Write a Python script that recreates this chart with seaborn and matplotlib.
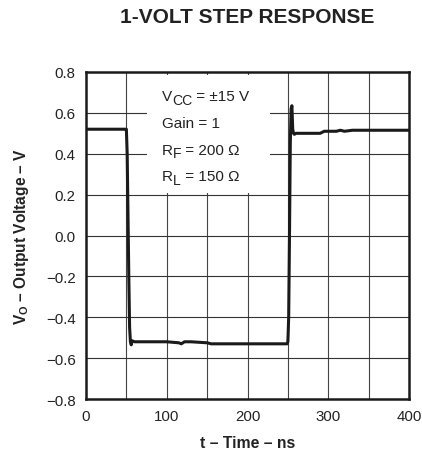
import numpy as np
import matplotlib
matplotlib.use("Agg")
import matplotlib.pyplot as plt
import seaborn as sns
import pandas as pd

# waveform (time in ns, output in V)
time_ns = [0, 20, 49, 50, 51, 52, 53, 54, 55, 56, 57, 60, 80, 100, 115, 118, 122,
           126, 130, 150, 155, 180, 200, 230, 249, 250, 251, 252, 253, 254, 255,
           256, 257, 258, 260, 280, 290, 295, 300, 310, 315, 320, 330, 360, 400]
vout = [0.52, 0.52, 0.52, 0.52, 0.40, 0.10, -0.20, -0.45, -0.52, -0.535, -0.515,
        -0.52, -0.52, -0.52, -0.525, -0.53, -0.52, -0.52, -0.52, -0.525, -0.53,
        -0.53, -0.53, -0.53, -0.53, -0.52, -0.40, 0.00, 0.45, 0.62, 0.635,
        0.52, 0.50, 0.495, 0.50, 0.50, 0.50, 0.51, 0.51, 0.51, 0.515, 0.51,
        0.515, 0.515, 0.515]

x_ticks = [0, 100, 200, 300, 400]
y_ticks = [-0.8, -0.6, -0.4, -0.2, 0.0, 0.2, 0.4, 0.6, 0.8]
# test conditions: (main text, subscript, rest)
conditions = [("V", "CC", " = ±15 V"),
              ("Gain = 1", "", ""),
              ("R", "F", " = 200 Ω"),
              ("R", "L", " = 150 Ω")]

sns.set_style("white")
plt.rcParams['font.family'] = ['Liberation Sans', 'DejaVu Sans']
plt.rcParams['mathtext.fontset'] = 'custom'
plt.rcParams['mathtext.rm'] = 'Liberation Sans'
plt.rcParams['mathtext.bf'] = 'Liberation Sans:bold'
plt.rcParams['axes.unicode_minus'] = True

df = pd.DataFrame({'t': time_ns, 'v': vout})

fig = plt.figure(figsize=(4.22, 4.60), dpi=100)
ax = fig.add_axes([86 / 422, 1 - 400 / 460, 323 / 422, 327 / 460])

# grid every 50 ns and 0.2 V
for gx in np.arange(50, 400, 50):
    ax.axvline(gx, color='#444444', lw=0.8, zorder=1)
for gy in np.arange(-0.6, 0.8, 0.2):
    ax.axhline(gy, color='#333333', lw=0.8, zorder=1)

# white box behind the test conditions
ax.fill_between([75, 228], 0.21, 0.785, color='white', zorder=2, lw=0)

sns.lineplot(data=df, x='t', y='v', ax=ax, color='#1a1a1a', lw=2.2,
             zorder=4, legend=False, sort=False)

fs = 11
for i, (main, sub, rest) in enumerate(conditions):
    t0 = ax.text(94, 0.682 - i * 0.131, main, fontsize=fs, ha='left',
                 va='center', color='#222222', zorder=5)
    if sub:
        t1 = ax.annotate(sub, xy=(1, 0), xycoords=t0, xytext=(0, -2.5),
                         textcoords='offset points', fontsize=fs * 0.92,
                         ha='left', va='bottom', color='#222222', zorder=5)
        ax.annotate(rest, xy=(1, 0), xycoords=t1, xytext=(0, 2.5),
                    textcoords='offset points', fontsize=fs,
                    ha='left', va='bottom', color='#222222', zorder=5)

ax.set_xlim(0, 400)
ax.set_ylim(-0.8, 0.8)
ax.set_xticks(x_ticks)
ax.set_yticks(y_ticks)
ax.set_yticklabels([f"{v:.1f}".replace('-', '\u2212') for v in y_ticks])
ax.tick_params(length=0, labelsize=10.8, colors='#222222', pad=7.5)
for sp in ax.spines.values():
    sp.set_visible(True)
    sp.set_linewidth(1.8)
    sp.set_color('#1a1a1a')

ax.set_xlabel("t – Time – ns", fontsize=11.3, fontweight='bold', labelpad=8,
              color='#222222')
ax.set_ylabel(r"V$_{\mathbf{O}}$ – Output Voltage – V", fontsize=11.2,
              fontweight='bold', labelpad=11, color='#222222')
fig.text(247.5 / 422, 1 - 17.5 / 460, "1-VOLT STEP RESPONSE", fontsize=15,
         fontweight='bold', ha='center', va='center', color='#222222')

fig.savefig('out.png', dpi=100)
